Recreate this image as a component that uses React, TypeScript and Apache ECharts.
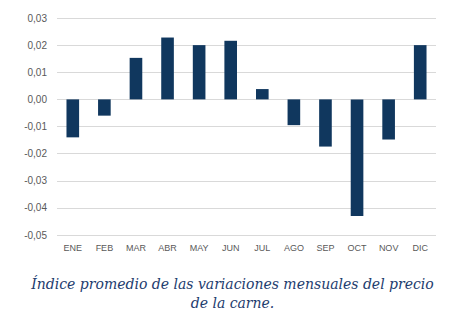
import React, { useEffect, useRef } from "react";
import * as echarts from "echarts";

const months = ["ENE", "FEB", "MAR", "ABR", "MAY", "JUN", "JUL", "AGO", "SEP", "OCT", "NOV", "DIC"];
const variations = [-0.014, -0.006, 0.0153, 0.0228, 0.02, 0.0216, 0.0038, -0.0095, -0.0174, -0.043, -0.0148, 0.02];
const captionLines = ["Índice promedio de las variaciones mensuales del precio", "de la carne."];

export default function App() {
  const ref = useRef<HTMLDivElement>(null);
  useEffect(() => {
    if (!ref.current) return;
    const chart = echarts.init(ref.current, null, { renderer: "svg" });
    chart.setOption({
      animation: false,
      backgroundColor: "#ffffff",
      grid: { left: 57, right: 29, top: 18, bottom: 88 },
      xAxis: {
        type: "category",
        data: months,
        position: "bottom",
        axisLine: { show: false, onZero: false },
        axisTick: { show: false },
        axisLabel: { color: "#595959", fontSize: 9, fontFamily: "Liberation Sans", margin: 8 },
      },
      yAxis: {
        type: "value",
        min: -0.05,
        max: 0.03,
        interval: 0.01,
        axisLine: { show: false },
        axisTick: { show: false },
        splitLine: { lineStyle: { color: "#d9d9d9", width: 1 } },
        axisLabel: {
          color: "#595959",
          fontSize: 10,
          fontFamily: "Liberation Sans",
          margin: 10,
          formatter: (v: number) => (Math.round(v * 100) / 100).toFixed(2).replace(".", ","),
        },
      },
      series: [
        {
          type: "bar",
          data: variations,
          barWidth: "40%",
          itemStyle: { color: "#10375e" },
        },
      ],
      graphic: [
        {
          type: "text",
          left: "center",
          top: 274,
          style: {
            text: captionLines.join("\n"),
            font: "italic 14px 'DejaVu Serif'",
            fill: "#1d3c6e",
            textAlign: "center",
            lineHeight: 19,
          },
        },
      ],
    });
    return () => chart.dispose();
  }, []);
  return <div ref={ref} style={{ width: 465, height: 323, position: "absolute", left: 0, top: 0 }} />;
}
